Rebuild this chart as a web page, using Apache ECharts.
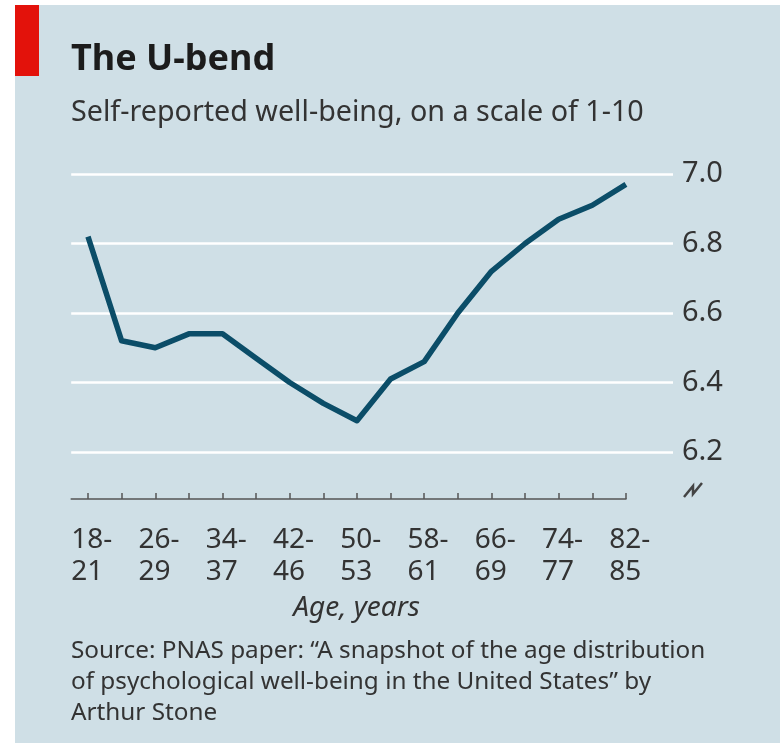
<!DOCTYPE html>
<html>
<head>
<meta charset="utf-8">
<script src="https://cdn.jsdelivr.net/npm/echarts@6/dist/echarts.min.js"></script>
<style>
html,body{margin:0;padding:0;background:#cfdfe6;overflow:hidden;}
#chart{width:780px;height:743px;}
</style>
</head>
<body>
<div id="chart"></div>
<script>
// ---- data ----
var categories = ['18-21','22-25','26-29','30-33','34-37','38-41','42-46','47-49','50-53','54-57','58-61','62-65','66-69','70-73','74-77','78-81','82-85'];
var wellBeing = [6.82, 6.52, 6.50, 6.54, 6.54, 6.47, 6.40, 6.34, 6.29, 6.41, 6.46, 6.60, 6.72, 6.80, 6.87, 6.91, 6.97];
var yTicks = [6.2, 6.4, 6.6, 6.8, 7.0];
var titleText = 'The U-bend';
var subtitleText = 'Self-reported well-being, on a scale of 1-10';
var xAxisTitle = 'Age, years';
var sourceText = 'Source: PNAS paper: \u201CA snapshot of the age distribution\nof psychological well-being in the United States\u201D by\nArthur Stone';

// ---- chart ----
var FONT = '"Noto Sans", sans-serif';
var chart = echarts.init(document.getElementById('chart'), null, {renderer: 'canvas'});

var idx = categories.map(function (c, i) { return i; });
var tickVals = idx.slice();
var labelVals = idx.filter(function (i) { return i % 2 === 0; }).map(function (i) { return i - 0.5; });

var option = {
  animation: false,
  backgroundColor: '#cfdfe6',
  title: [
    {text: titleText, left: 71, top: 40, padding: 0,
     textStyle: {fontFamily: FONT, fontSize: 36, fontWeight: 'bold', color: '#1c1c1c', lineHeight: 40}},
    {text: subtitleText, left: 71, top: 97, padding: 0,
     textStyle: {fontFamily: FONT, fontSize: 28.7, fontWeight: 'normal', color: '#333', lineHeight: 32}},
    {text: sourceText, left: 71, top: 636, padding: 0,
     textStyle: {fontFamily: FONT, fontSize: 24.3, fontWeight: 'normal', color: '#333', lineHeight: 31}}
  ],
  grid: [
    {left: 71.19, top: 174, width: 601.8, height: 278},
    {left: 71.19, top: 480, width: 554.8, height: 19}
  ],
  xAxis: [
    {type: 'value', gridIndex: 0, min: -0.5, max: 17.4, show: false},
    {type: 'value', gridIndex: 1, min: -0.5, max: 16, position: 'bottom',
     axisLine: {show: true, lineStyle: {color: '#555', width: 1.5}},
     axisTick: {show: true, inside: true, length: 6, customValues: tickVals, lineStyle: {color: '#555', width: 1.5}},
     splitLine: {show: false},
     axisLabel: {show: true, customValues: labelVals, align: 'left', margin: 25,
       fontFamily: FONT, fontSize: 28, color: '#333', lineHeight: 32,
       formatter: function (v) { var c = categories[Math.round(v + 0.5)]; return c ? c.replace('-', '-\n') : ''; }},
     name: xAxisTitle, nameLocation: 'middle', nameGap: 95,
     nameTextStyle: {fontFamily: FONT, fontSize: 28, fontStyle: 'italic', color: '#333', lineHeight: 28, padding: [0, 0, 0, 16]}}
  ],
  yAxis: [
    {type: 'value', gridIndex: 0, position: 'right', min: 6.2, max: 7.0, interval: 0.2,
     axisLine: {show: false}, axisTick: {show: false},
     splitLine: {show: true, lineStyle: {color: '#ffffff', width: 2.5}},
     axisLabel: {margin: 9, fontFamily: FONT, fontSize: 29, color: '#333',
       formatter: function (v) { return v.toFixed(1); }}},
    {type: 'value', gridIndex: 1, show: false, min: 0, max: 1}
  ],
  graphic: [
    {type: 'rect', shape: {x: 0, y: 0, width: 15, height: 743}, style: {fill: '#ffffff'}, silent: true},
    {type: 'rect', shape: {x: 0, y: 0, width: 780, height: 5}, style: {fill: '#ffffff'}, silent: true},
    {type: 'rect', shape: {x: 15, y: 5, width: 24, height: 71}, style: {fill: '#e3120b'}, silent: true},
    {type: 'polyline', shape: {points: [[684, 497], [693, 486], [693, 494], [702, 483]]},
     style: {stroke: '#444', lineWidth: 2.5, fill: null}, silent: true}
  ],
  series: [
    {type: 'line', xAxisIndex: 0, yAxisIndex: 0, showSymbol: false, silent: true,
     data: wellBeing.map(function (v, i) { return [idx[i], v]; }),
     lineStyle: {color: '#0b4d68', width: 5.5, join: 'round'}}
  ]
};
chart.setOption(option);
</script>
</body>
</html>
